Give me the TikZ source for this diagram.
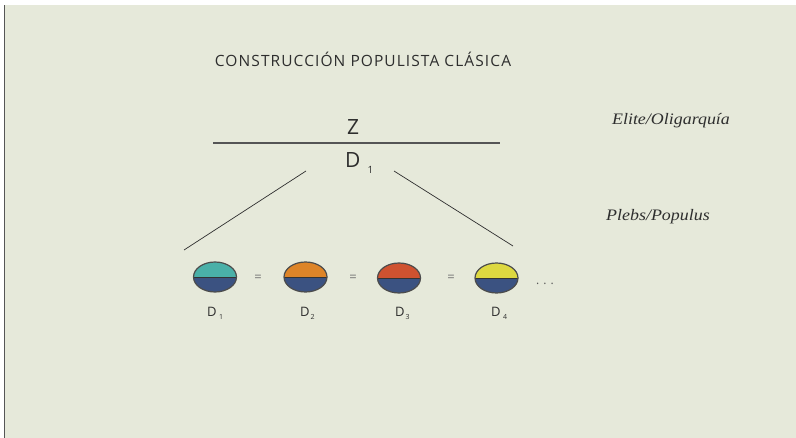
\documentclass[tikz,border=0pt]{standalone}
\usepackage{fontspec}
\setmainfont{Liberation Serif}
\newfontfamily\sansf{Open Sans}
\newfontfamily\sansw{Open Sans}[LetterSpace=7]
\usetikzlibrary{shapes.geometric}
\definecolor{bgc}{HTML}{E6E9DA}
\definecolor{txt}{HTML}{2E2E2E}
\definecolor{linec}{HTML}{555555}
\definecolor{teal}{HTML}{4AB0A8}
\definecolor{orng}{HTML}{DD8428}
\definecolor{redc}{HTML}{CF5230}
\definecolor{yell}{HTML}{DDD840}
\definecolor{bluec}{HTML}{3B5281}
\tikzset{
  halfball/.style={ellipse, minimum width=43pt, minimum height=30pt, inner sep=0pt,
    fill=bluec, draw=linec!90!black, line width=1.2pt,
    path picture={
      \fill[#1] (path picture bounding box.north west) rectangle (path picture bounding box.east);
      \draw[black!80, line width=0.9pt] (path picture bounding box.west) -- (path picture bounding box.east);
    }},
  eqs/.style={font=\sansf\fontsize{13}{14}\selectfont, text=gray!90!black, inner sep=0pt},
  dlab/.style={font=\sansf\fontsize{13}{15}\selectfont, text=txt, inner sep=0pt},
  ital/.style={font=\itshape\fontsize{16}{18}\selectfont, text=txt, inner sep=0pt},
  conn/.style={draw=txt, line width=0.7pt}
}
\newcommand{\Dsub}[2]{D\kern#2pt\raisebox{-0.45ex}{\fontsize{7}{8}\selectfont #1}}
\begin{document}
\begin{tikzpicture}[x=1pt,y=-1pt]
\useasboundingbox (0,0) rectangle (796,438);
\fill[white] (0,0) rectangle (796,438);
\fill[bgc] (4,5.5) rectangle (796,438);
\draw[linec, line width=1pt] (4.5,5.5) -- (4.5,438);
% title
\node[font=\sansw\fontsize{15.5}{17}\selectfont, text=txt, inner sep=0pt] (title) at (363,59) {CONSTRUCCIÓN POPULISTA CLÁSICA};
% Z over D1
\node[font=\sansf\fontsize{21}{24}\selectfont, text=txt, inner sep=0pt] (Z) at (353,127) {Z};
\coordinate (hl) at (213,143);
\coordinate (hr) at (500,143);
\draw[linec, line width=1.3pt] (hl) -- (hr);
\node[font=\sansf\fontsize{21}{24}\selectfont, text=txt, inner sep=0pt, anchor=west] (Dtop) at (345,163) {D\kern7pt\raisebox{-0.45ex}{\fontsize{10}{11}\selectfont 1}};
% side labels
\node[ital] (elite) at (671,121) {\scalebox{1.12}[1]{Elite/Oligarquía}};
\node[ital] (plebs) at (658,217) {\scalebox{1.12}[1]{Plebs/Populus}};
% connectors
\coordinate (la) at (306,171);
\coordinate (lb) at (184,250);
\coordinate (ra) at (394,171);
\coordinate (rb) at (513,246);
\draw[conn] (la) -- (lb);
\draw[conn] (ra) -- (rb);
% balls
\node[halfball=teal] (c1) at (215,277) {};
\node[halfball=orng] (c2) at (305.5,277) {};
\node[halfball=redc] (c3) at (399,278) {};
\node[halfball=yell] (c4) at (496.5,278) {};
\node[eqs] (e1) at (258,278) {=};
\node[eqs] (e2) at (353,278) {=};
\node[eqs] (e3) at (451,278) {=};
\node[font=\sansf\fontsize{12}{14}\selectfont, text=txt!80, inner sep=0pt] (dots) at (545,284) {. . .};
% labels
\node[dlab, anchor=west] (d1) at (207,313) {\Dsub{1}{2.5}};
\node[dlab, anchor=west] (d2) at (300,313) {\Dsub{2}{1}};
\node[dlab, anchor=west] (d3) at (395,313) {\Dsub{3}{1}};
\node[dlab, anchor=west] (d4) at (491,313) {\Dsub{4}{2.5}};
\end{tikzpicture}
\end{document}
